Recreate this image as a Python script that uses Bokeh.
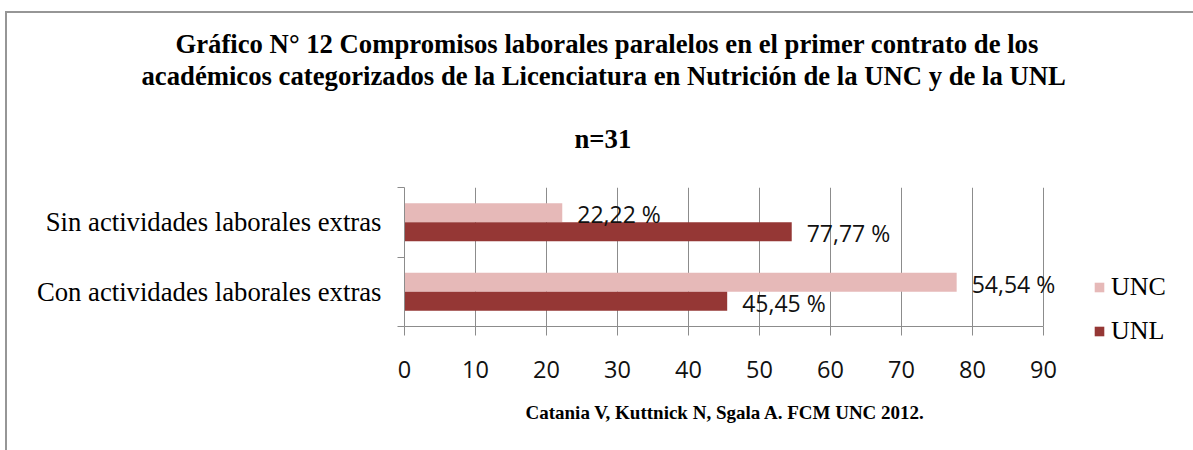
from bokeh.plotting import figure
from bokeh.models import (Range1d, FixedTicker, Title, LabelSet, Legend, LegendItem,
                          ColumnDataSource)
from bokeh.core.properties import value
from bokeh.embed import file_html
from bokeh.resources import INLINE

# ---- data ----
categories = ["Con actividades laborales extras", "Sin actividades laborales extras"]
series = ["UNC", "UNL"]
unc_values = [77.77, 22.22]
unl_values = [45.45, 54.54]
unc_labels = ["54,54 %", "22,22 %"]
unl_labels = ["45,45 %", "77,77 %"]
x_ticks = [0, 10, 20, 30, 40, 50, 60, 70, 80, 90]

title_lines = [
    "Gráfico N° 12 Compromisos laborales paralelos en el primer contrato de los",
    "académicos categorizados de la Licenciatura en Nutrición de la UNC y de la UNL",
]
subtitle = "n=31"
footer = "Catania V, Kuttnick N, Sgala A. FCM UNC 2012."

UNC_COLOR = "#E6B9B8"
UNL_COLOR = "#953735"
GRID = "#8c8c8c"

# positions of category centers
centers = [i + 0.5 for i in range(len(categories))]
bar_h = 0.273
unc_y = [c + bar_h / 2 for c in centers]
unl_y = [c - bar_h / 2 for c in centers]

src_unc = ColumnDataSource(dict(y=unc_y, v=unc_values, lab=unc_labels))
src_unl = ColumnDataSource(dict(y=unl_y, v=unl_values, lab=unl_labels))

FW = 660                       # frame width (axis 0..90 covers 639 px)
x_end = x_ticks[-1] * FW / 639.0

p = figure(width=1186, height=437, frame_width=FW, frame_height=139,
           min_border_left=397, min_border_right=129,
           min_border_top=174, min_border_bottom=124,
           x_range=Range1d(0, x_end), y_range=Range1d(0, 2),
           output_backend="svg", toolbar_location=None,
           styles={"margin-top": "11px", "margin-left": "5px",
                   "border-top": "2px solid #969696",
                   "border-left": "2px solid #969696"})
p.outline_line_color = None
p.background_fill_color = "white"
p.border_fill_color = "white"

r_unc = p.hbar(y="y", right="v", left=0, height=bar_h, source=src_unc,
               fill_color=UNC_COLOR, line_color=None)
r_unl = p.hbar(y="y", right="v", left=0, height=bar_h, source=src_unl,
               fill_color=UNL_COLOR, line_color=None)

# data labels
for src in (src_unc, src_unl):
    p.add_layout(LabelSet(x="v", y="y", text="lab", source=src, x_offset=15, y_offset=-1.5,
                          text_align="left", text_baseline="middle",
                          text_font=value("Open Sans"), text_font_size="23px",
                          text_color="#111111"))

# x axis
xa = p.xaxis[0]
xa.ticker = FixedTicker(ticks=x_ticks)
xa.bounds = (x_ticks[0], x_ticks[-1])
xa.axis_line_color = GRID
xa.major_tick_line_color = GRID
xa.major_tick_out = 9
xa.major_tick_in = 0
xa.minor_tick_line_color = None
xa.major_label_text_font = "Open Sans"
xa.major_label_text_font_size = "23.5px"
xa.major_label_text_color = "#111111"
xa.major_label_standoff = 25

# y axis: labels at centers, ticks at boundaries
ya = p.yaxis[0]
ya.ticker = FixedTicker(ticks=centers, minor_ticks=[0, 1, 2])
ya.major_label_overrides = {c: cat for c, cat in zip(centers, categories)}
ya.axis_line_color = GRID
ya.major_tick_line_color = None
ya.major_tick_out = 0
ya.major_tick_in = 0
ya.minor_tick_line_color = GRID
ya.minor_tick_out = 7
ya.minor_tick_in = 0
ya.major_label_text_font = "Liberation Serif"
ya.major_label_text_font_size = "26.7px"
ya.major_label_text_color = "#000000"
ya.major_label_standoff = 16

p.xgrid.grid_line_color = GRID
p.xgrid.ticker = FixedTicker(ticks=x_ticks)
p.ygrid.grid_line_color = None

legend = Legend(items=[LegendItem(label="UNC", renderers=[r_unc]),
                       LegendItem(label="UNL", renderers=[r_unl])],
                location=(29, -20), orientation="vertical",
                glyph_width=12, glyph_height=12, label_standoff=6,
                spacing=14, padding=0, margin=0,
                border_line_color=None, background_fill_alpha=0,
                label_text_font="Liberation Serif", label_text_font_size="26px",
                label_text_color="#000000")
p.add_layout(legend, "right")

# titles (stacked upward from the frame) and footer
def add_title(text, offset, standoff, size, where="above", align="left", valign="bottom"):
    p.add_layout(Title(text=text, align=align, offset=offset, standoff=standoff,
                       vertical_align=valign,
                       text_font="Liberation Serif", text_font_style="bold",
                       text_font_size=size, text_color="#000000"), where)

add_title(subtitle, 170, 67, "26.7px")
add_title(title_lines[1], -263, -4, "26.7px")
add_title(title_lines[0], -229, 3, "26.7px")
add_title(footer, 121, 42, "19px", where="below", align="left", valign="top")

open("out.html", "w").write(file_html(p, INLINE))
